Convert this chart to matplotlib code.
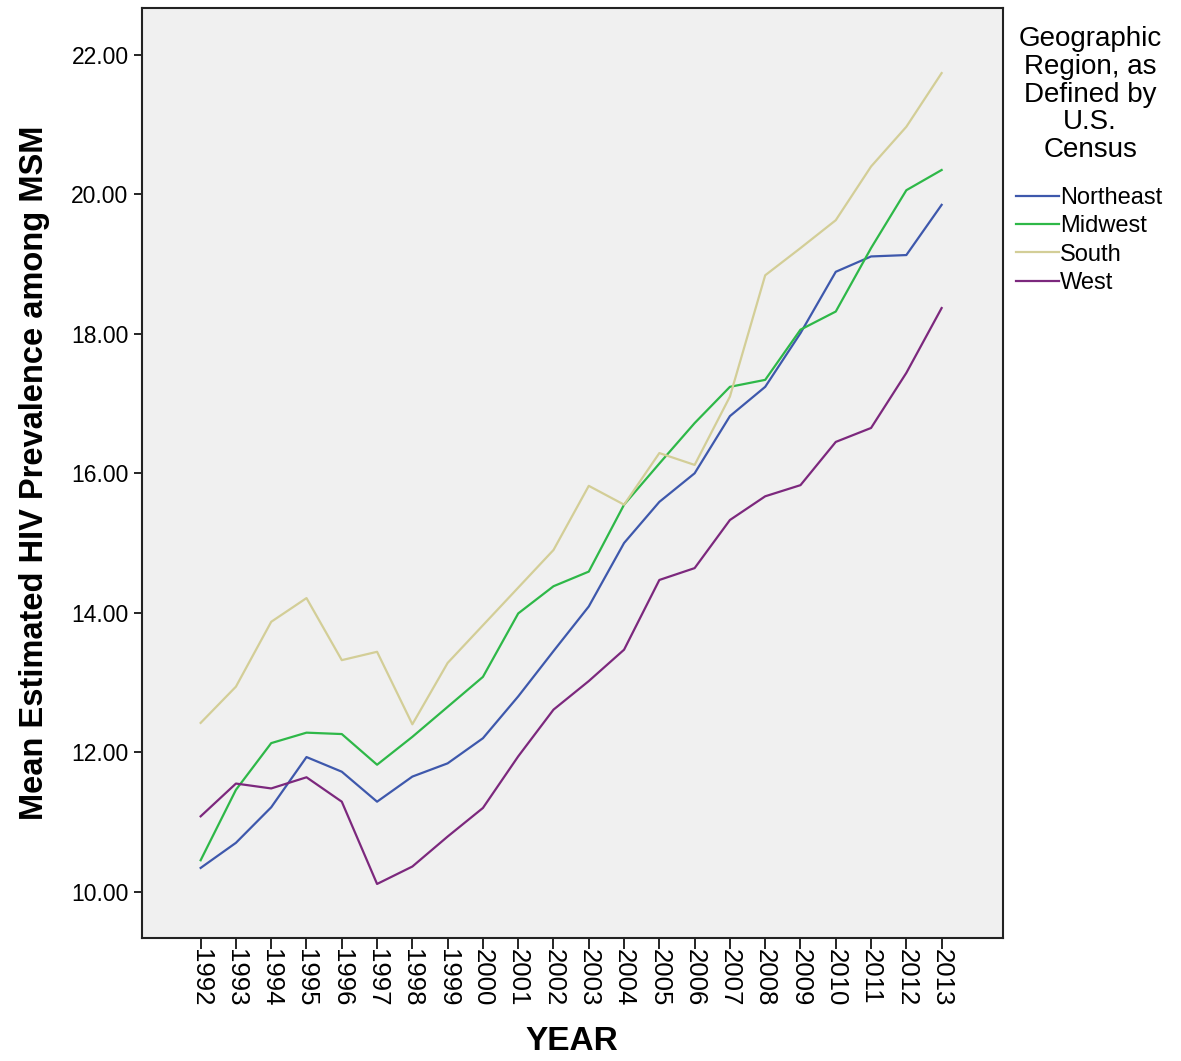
# Mean estimated HIV prevalence among MSM by US census region, 1992-2013

import numpy as np
import matplotlib.pyplot as plt
from matplotlib.ticker import FormatStrFormatter

# --- Data ---
years = list(range(1992, 2014))

northeast = [10.34, 10.70, 11.21, 11.93, 11.72, 11.29, 11.65, 11.84, 12.20, 12.80, 13.45,
             14.09, 15.00, 15.59, 16.00, 16.82, 17.24, 18.01, 18.89, 19.11, 19.13, 19.85]
midwest = [10.45, 11.46, 12.13, 12.28, 12.26, 11.82, 12.22, 12.65, 13.08, 13.99, 14.38,
           14.59, 15.55, 16.14, 16.72, 17.24, 17.34, 18.06, 18.32, 19.23, 20.06, 20.35]
south = [12.42, 12.94, 13.87, 14.21, 13.32, 13.44, 12.40, 13.28, 13.82, 14.36, 14.90,
         15.82, 15.55, 16.29, 16.12, 17.10, 18.84, 19.23, 19.63, 20.40, 20.97, 21.74]
west = [11.08, 11.55, 11.48, 11.64, 11.29, 10.11, 10.36, 10.79, 11.20, 11.94, 12.61,
        13.02, 13.47, 14.47, 14.64, 15.33, 15.67, 15.83, 16.45, 16.65, 17.44, 18.37]

regions = ['Northeast', 'Midwest', 'South', 'West']
colors = ['#3E58AC', '#2EB848', '#D3CE97', '#7C287D']
yticks = [10, 12, 14, 16, 18, 20, 22]

plt.rcParams['font.family'] = ['Liberation Sans', 'DejaVu Sans']

fig = plt.figure(figsize=(11.81, 10.61), dpi=100)
ax = fig.add_axes([0.120, 0.116, 0.729, 0.8765])
ax.set_facecolor('#F0F0F0')

for name, vals, col in zip(regions, [northeast, midwest, south, west], colors):
    ax.plot(years, vals, color=col, linewidth=1.6, label=name)

ax.set_xlim(1990.33, 2014.73)
ax.set_ylim(9.336, 22.674)

ax.set_xticks(years)
ax.set_xticklabels([str(y) for y in years], rotation=-90, fontsize=18.5)
ax.set_yticks(yticks)
ax.yaxis.set_major_formatter(FormatStrFormatter('%.2f'))
ax.tick_params(axis='y', labelsize=16.5, length=6, width=1.2, direction='out')
ax.tick_params(axis='x', length=8, width=1.2, direction='out', pad=0)

for s in ax.spines.values():
    s.set_linewidth(1.5)
    s.set_color('#222222')

ax.set_xlabel('YEAR', fontsize=24, fontweight='bold', labelpad=14)
ax.set_ylabel('Mean Estimated HIV Prevalence among MSM', fontsize=23.5,
              fontweight='bold', labelpad=15)

# legend title drawn separately so it can sit centred above the entries
fig.text(0.923, 1 - 26 / 1061, 'Geographic\nRegion, as\nDefined by\nU.S.\nCensus',
         ha='center', va='top', fontsize=20, linespacing=1.09, multialignment='center')

leg = ax.legend(loc='upper left', bbox_to_anchor=(1016 / 1181, 1 - 187 / 1061),
                bbox_transform=fig.transFigure, frameon=False,
                fontsize=17, handlelength=1.8, handletextpad=0.08,
                labelspacing=0.27, borderaxespad=0, borderpad=0)

plt.savefig('out.png', dpi=100, facecolor='white')
